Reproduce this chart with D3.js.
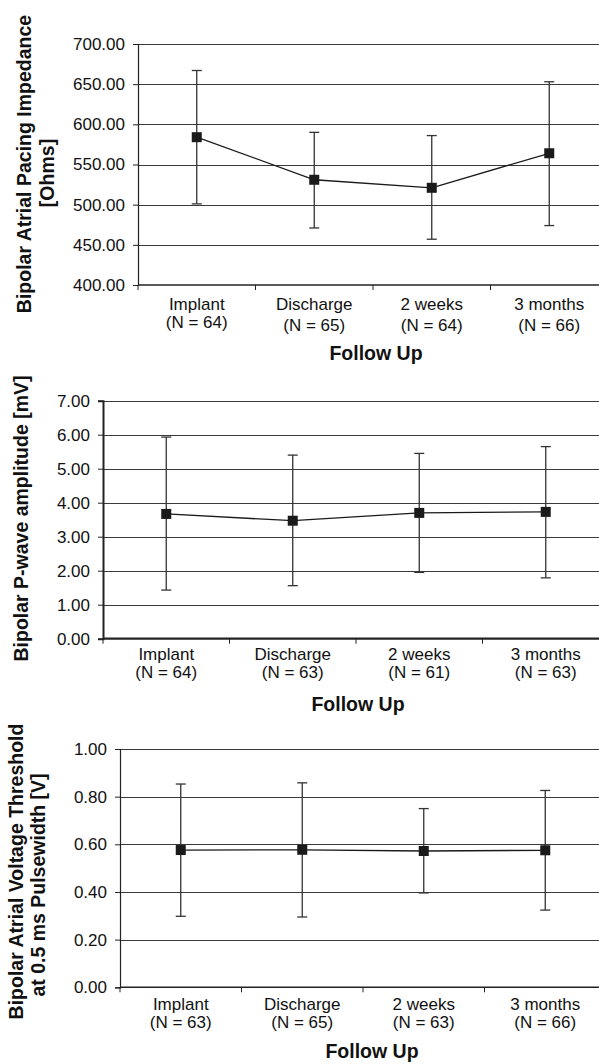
<!DOCTYPE html>
<html>
<head>
<meta charset="utf-8">
<script src="https://cdn.jsdelivr.net/npm/d3@7"></script>
<style>
  html, body { margin: 0; padding: 0; background: #fff; }
  svg { display: block; font-family: "Liberation Sans", Arial, sans-serif; }
  .grid line { stroke: #3a3a3a; stroke-width: 1; }
  .ax .domain { stroke: #222; }
  .ax line { stroke: #222; }
  .ax text { fill: #111; font-size: 17px; }
  .cat { fill: #111; font-size: 17px; text-anchor: middle; }
  .ttl { fill: #111; font-size: 19.5px; font-weight: bold; text-anchor: middle; }
</style>
</head>
<body>
<svg id="chart" width="599" height="1064"></svg>
<script>
var categories = ["Implant", "Discharge", "2 weeks", "3 months"];

// Bipolar atrial pacing impedance [Ohms]
var impedanceN     = [64, 65, 64, 66];
var impedanceMean  = [584, 531, 521, 564];
var impedanceUpper = [667, 590, 586, 653];
var impedanceLower = [501, 471, 457, 474];
var impedanceTicks = [400, 450, 500, 550, 600, 650, 700];

// Bipolar P-wave amplitude [mV]
var pwaveN     = [64, 63, 61, 63];
var pwaveMean  = [3.67, 3.47, 3.70, 3.73];
var pwaveUpper = [5.93, 5.40, 5.45, 5.65];
var pwaveLower = [1.43, 1.56, 1.95, 1.79];
var pwaveTicks = [0, 1, 2, 3, 4, 5, 6, 7];

// Bipolar atrial voltage threshold at 0.5 ms [V]
var thresholdN     = [63, 65, 63, 66];
var thresholdMean  = [0.576, 0.577, 0.572, 0.575];
var thresholdUpper = [0.853, 0.858, 0.750, 0.826];
var thresholdLower = [0.298, 0.295, 0.396, 0.324];
var thresholdTicks = [0, 0.2, 0.4, 0.6, 0.8, 1.0];

var xTitle = "Follow Up";

var svg = d3.select("#chart");

function drawPanel(p){
  var g = svg.append("g");

  var x = d3.scaleBand().domain(categories).range([p.left, p.right]).padding(0);
  var y = d3.scaleLinear().domain(d3.extent(p.ticks)).range([p.bottom, p.top]);
  var cx = function(c){ return x(c) + x.bandwidth() / 2; };

  // gridlines
  g.append("g").attr("class", "grid")
    .selectAll("line")
    .data(p.ticks.slice(1))
    .enter().append("line")
      .attr("x1", p.left).attr("x2", p.right)
      .attr("y1", function(d){ return Math.round(y(d)) + 0.5; })
      .attr("y2", function(d){ return Math.round(y(d)) + 0.5; });

  // y axis
  var yAxis = g.append("g").attr("class", "ax")
    .attr("transform", "translate(" + p.left + ",0)")
    .call(d3.axisLeft(y).tickValues(p.ticks).tickSize(5).tickPadding(8).tickFormat(d3.format(".2f")));
  yAxis.select(".domain").attr("stroke", p.yAxisColor).attr("stroke-width", p.yAxisWidth);

  // x axis: ticks sit between categories
  var bounds = categories.map(function(c){ return x(c); }).concat([p.right]);
  var xAxis = g.append("g").attr("class", "ax");
  xAxis.append("line")
    .attr("x1", p.left).attr("x2", p.right)
    .attr("y1", p.bottom).attr("y2", p.bottom)
    .attr("stroke-width", p.xAxisWidth);
  xAxis.selectAll(".xt")
    .data(bounds)
    .enter().append("line")
      .attr("class", "xt")
      .attr("x1", function(d){ return d; }).attr("x2", function(d){ return d; })
      .attr("y1", p.bottom).attr("y2", p.bottom + 5);

  // category labels
  var labels = g.selectAll(".catlab")
    .data(categories)
    .enter().append("g")
      .attr("class", "catlab");
  labels.append("text")
    .attr("class", "cat")
    .attr("x", cx)
    .attr("y", p.bottom + p.lab1)
    .text(function(d){ return d; });
  labels.append("text")
    .attr("class", "cat")
    .attr("x", cx)
    .attr("y", function(d, i){ return p.bottom + p.lab2[i]; })
    .text(function(d, i){ return "(N = " + p.n[i] + ")"; });

  // x title
  g.append("text").attr("class", "ttl")
    .attr("x", p.xTitleX).attr("y", p.xTitleY)
    .text(xTitle);

  // y title (rotated, one text per line)
  p.yTitle.forEach(function(t){
    g.append("text").attr("class", "ttl")
      .attr("transform", "translate(" + t.x + "," + t.cy + ") rotate(-90)")
      .text(t.text);
  });

  var pts = categories.map(function(c, i){
    return { c: c, mean: p.mean[i], hi: p.upper[i], lo: p.lower[i] };
  });

  // error bars
  var eb = g.selectAll(".eb").data(pts).enter().append("g").attr("class", "eb")
    .attr("stroke", "#333").attr("stroke-width", 1.3);
  eb.append("line")
    .attr("x1", function(d){ return cx(d.c); }).attr("x2", function(d){ return cx(d.c); })
    .attr("y1", function(d){ return y(d.hi); }).attr("y2", function(d){ return y(d.lo); });
  eb.append("line")
    .attr("x1", function(d){ return cx(d.c) - 5; }).attr("x2", function(d){ return cx(d.c) + 5; })
    .attr("y1", function(d){ return y(d.hi); }).attr("y2", function(d){ return y(d.hi); });
  eb.append("line")
    .attr("x1", function(d){ return cx(d.c) - 5; }).attr("x2", function(d){ return cx(d.c) + 5; })
    .attr("y1", function(d){ return y(d.lo); }).attr("y2", function(d){ return y(d.lo); });

  // mean line
  var line = d3.line()
    .x(function(d){ return cx(d.c); })
    .y(function(d){ return y(d.mean); });
  g.append("path")
    .attr("fill", "none")
    .attr("stroke", "#1a1a1a")
    .attr("stroke-width", 1.3)
    .attr("d", line(pts));

  // square markers
  g.selectAll(".mk").data(pts).enter().append("rect")
    .attr("class", "mk")
    .attr("x", function(d){ return cx(d.c) - 5; })
    .attr("y", function(d){ return y(d.mean) - 5; })
    .attr("width", 10).attr("height", 10)
    .attr("fill", "#1a1a1a");
}

drawPanel({
  left: 138, right: 608, top: 44, bottom: 285,
  ticks: impedanceTicks, n: impedanceN,
  mean: impedanceMean, upper: impedanceUpper, lower: impedanceLower,
  lab1: 25, lab2: [42.5, 46, 46, 46],
  xTitleX: 376, xTitleY: 360,
  yAxisColor: "#222", yAxisWidth: 1.2, xAxisWidth: 1.4,
  yTitle: [
    { text: "Bipolar Atrial Pacing Impedance", x: 31, cy: 164 },
    { text: "[Ohms]", x: 54, cy: 173 }
  ]
});

drawPanel({
  left: 103, right: 609, top: 400.7, bottom: 638.7,
  ticks: pwaveTicks, n: pwaveN,
  mean: pwaveMean, upper: pwaveUpper, lower: pwaveLower,
  lab1: 21.5, lab2: [39.5, 39.5, 39.5, 39.5],
  xTitleX: 358, xTitleY: 711,
  yAxisColor: "#777", yAxisWidth: 2, xAxisWidth: 2.2,
  yTitle: [
    { text: "Bipolar P-wave amplitude [mV]", x: 28, cy: 518.5 }
  ]
});

drawPanel({
  left: 120, right: 606, top: 749, bottom: 987.3,
  ticks: thresholdTicks, n: thresholdN,
  mean: thresholdMean, upper: thresholdUpper, lower: thresholdLower,
  lab1: 22.7, lab2: [40.4, 40.4, 40.4, 40.4],
  xTitleX: 372, xTitleY: 1058,
  yAxisColor: "#222", yAxisWidth: 1.2, xAxisWidth: 1.4,
  yTitle: [
    { text: "Bipolar Atrial Voltage Threshold", x: 23, cy: 871.5 },
    { text: "at 0.5 ms Pulsewidth [V]", x: 45, cy: 885 }
  ]
});
</script>
</body>
</html>
